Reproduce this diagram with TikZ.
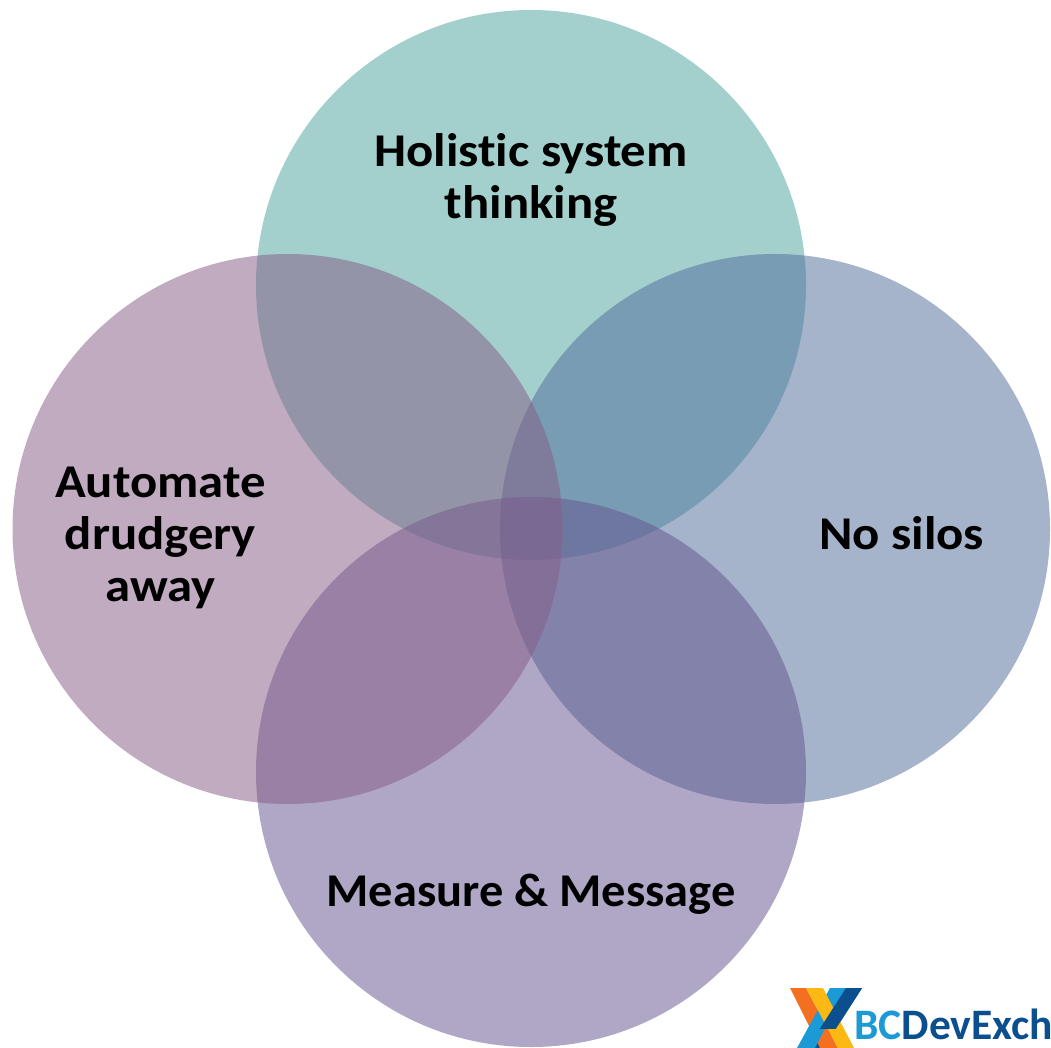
\documentclass[tikz,border=0pt]{standalone}
\usepackage{fontspec}
\setmainfont[FakeStretch=1.08,Ligatures=NoCommon]{Carlito}
\newfontfamily\logofont{Carlito}
\newfontfamily\narrowlabel[FakeStretch=1.03,Ligatures=NoCommon]{Carlito}
\definecolor{ctop}{HTML}{4EA59F}
\definecolor{cright}{HTML}{526D9B}
\definecolor{cleft}{HTML}{865E87}
\definecolor{cbottom}{HTML}{65568F}
\definecolor{logoorange}{HTML}{F37021}
\definecolor{logoyellow}{HTML}{FDB913}
\definecolor{logolight}{HTML}{1C9AD6}
\definecolor{logodark}{HTML}{0B4F8F}
\tikzset{
 petal/.style={circle,minimum size=550pt,inner sep=0pt,fill opacity=.52},
 lbl/.style={font=\fontsize{47}{52}\selectfont\bfseries,align=center,text=black,inner sep=0pt}
}
\begin{document}
\begin{tikzpicture}[x=1pt,y=-1pt]
\useasboundingbox (0,0) rectangle (1051,1048);
\node[petal,fill=ctop] (top) at (531,285) {};
\node[petal,fill=cright] (right) at (775,529) {};
\node[petal,fill=cbottom] (bottom) at (531,772) {};
\node[petal,fill=cleft] (left) at (287.5,529) {};
\node[lbl] (t1) at (531,180) {Holistic system\\thinking};
\node[lbl] (t2) at (160.5,538) {Automate\\drudgery\\away};
\node[lbl] (t3) at (901.5,533) {No silos};
\node[lbl,font=\narrowlabel\fontsize{47}{52}\selectfont\bfseries] (t4) at (531,894) {Measure \& Message};
\fill[logodark] (846,988) -- (862,988) -- (823.5,1048) -- (807.5,1048) -- cycle;
\fill[logoorange] (790,988) -- (806,988) -- (838,1048) -- (820,1048) -- cycle;
\fill[logolight] (830,988) -- (846,988) -- (815,1048) -- (797,1048) -- cycle;
\fill[logoyellow] (806,988) -- (823,988) -- (854,1048) -- (838,1048) -- cycle;
\begin{scope}
\clip (780,980) rectangle (870,1028.5);
\fill[logodark] (846,988) -- (862,988) -- (823.5,1048) -- (807.5,1048) -- cycle;
\end{scope}
\node[anchor=base west,inner sep=0pt,font=\logofont\fontsize{43.5}{44}\selectfont\bfseries] (logo) at (854,1039) {\textcolor{logolight}{BC}\textcolor{logodark}{DevExch}};
\end{tikzpicture}
\end{document}
